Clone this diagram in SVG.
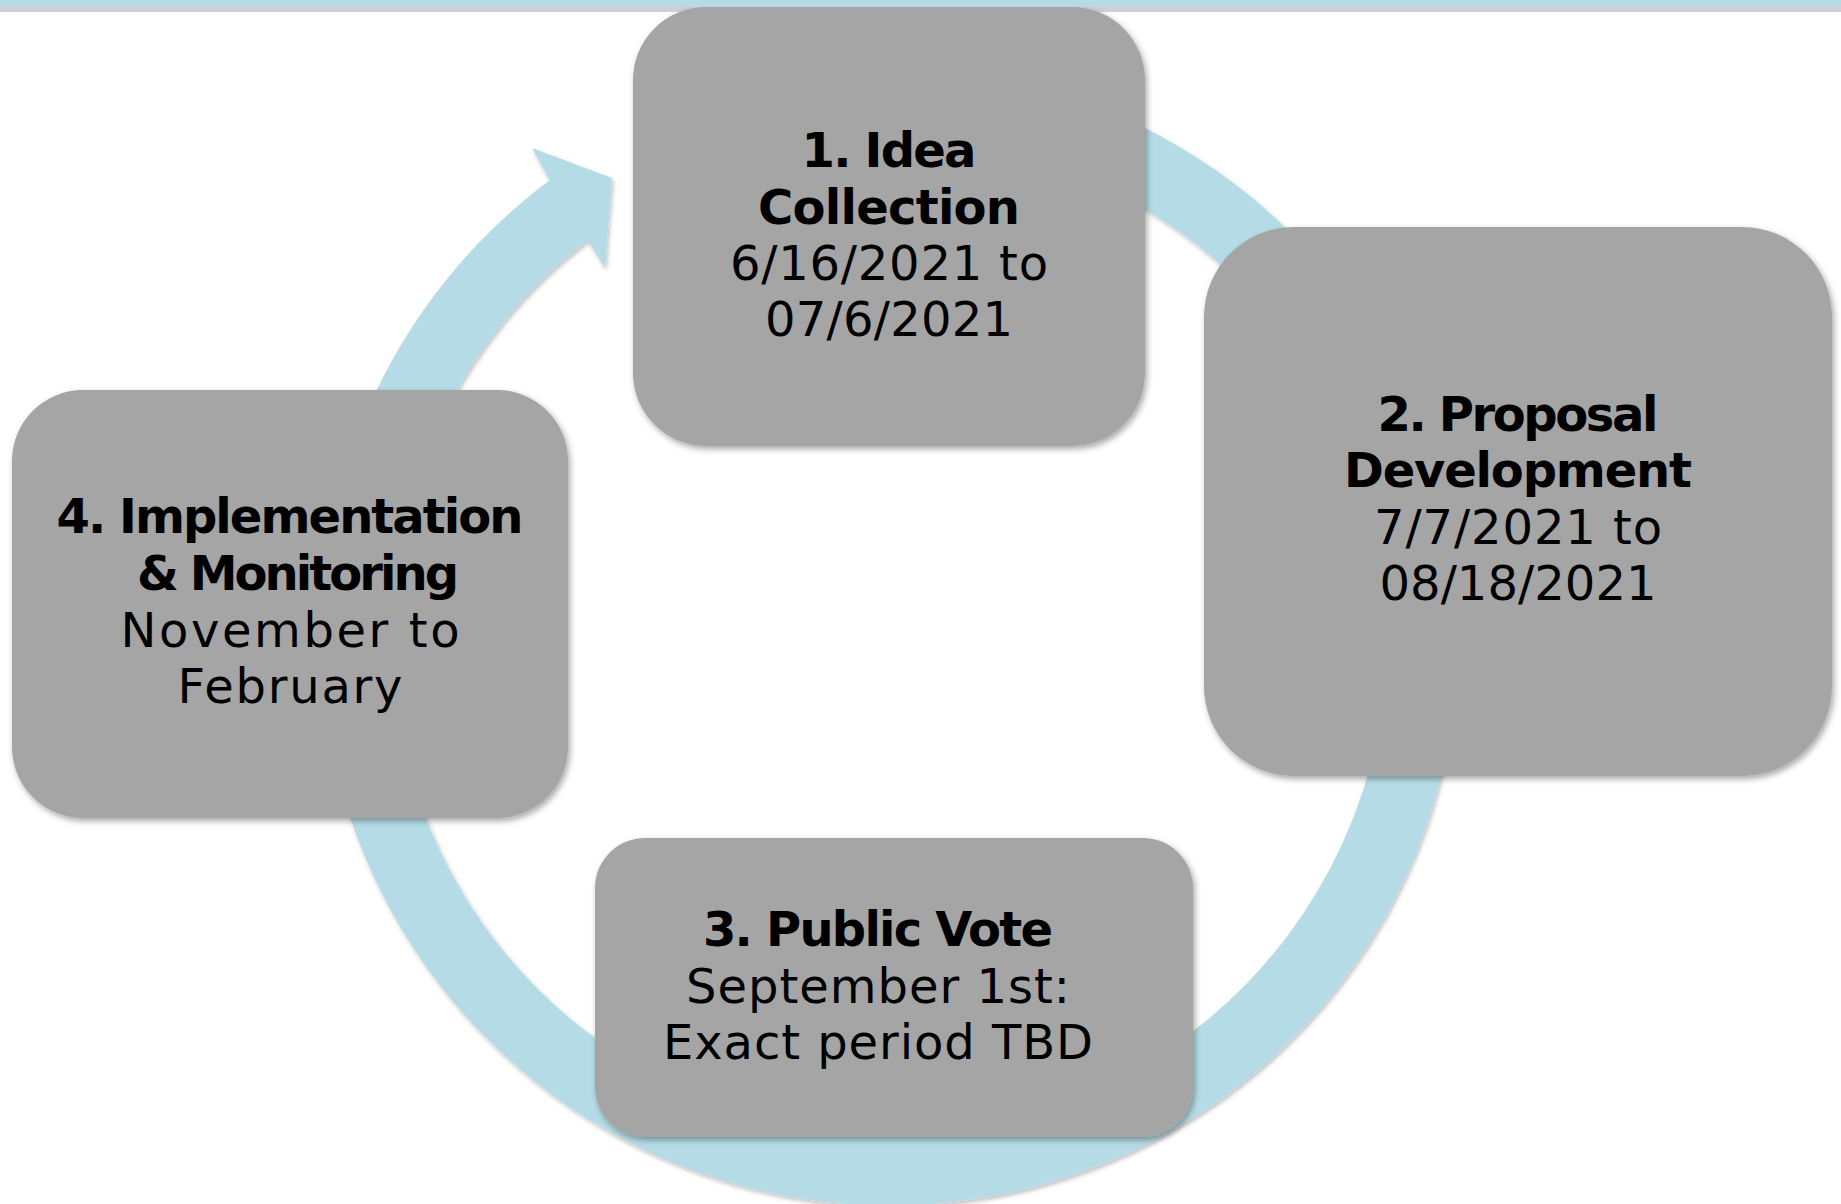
<svg xmlns="http://www.w3.org/2000/svg" width="1841" height="1204" viewBox="0 0 1841 1204">
  <style>
    .box { fill: #a5a5a5; filter: url(#shadow); }
    .ring { fill: #b5dce6; filter: url(#shadowRing); }
    .t { font-family: "DejaVu Sans", "Liberation Sans", sans-serif; font-size: 48px; fill: #000000; text-anchor: middle; }
    .b { font-weight: bold; }
  </style>
  <defs>
    <filter id="shadow" x="-10%" y="-10%" width="120%" height="120%">
      <feDropShadow dx="2" dy="3" stdDeviation="3" flood-color="#000000" flood-opacity="0.35"/>
    </filter>
    <filter id="shadowRing" x="-10%" y="-10%" width="120%" height="120%">
      <feDropShadow dx="1.5" dy="2.5" stdDeviation="2" flood-color="#000000" flood-opacity="0.25"/>
    </filter>
  </defs>
  <rect x="0" y="0" width="1841" height="1204" fill="#ffffff"/>
  <rect id="band-line" x="0" y="7" width="1841" height="5" fill="#d0d0d0"/>
  <g id="connectors">
    <path class="ring" d="M988.4,76.15 A569,569 0 1,1 549.6,180.3 L532,148 L612,178 L605,268 L587.8,240.3 A498,498 0 1,0 976.1,146.1 Z"/>
  </g>
  <g id="node1">
    <rect class="box" x="633" y="7" width="512" height="439" rx="73" ry="73"/>
    <text class="t b" x="889" y="167" textLength="175">1. Idea</text>
    <text class="t b" x="889" y="224" textLength="262">Collection</text>
    <text class="t" x="889" y="280" textLength="318">6/16/2021 to</text>
    <text class="t" x="889" y="336" textLength="248">07/6/2021</text>
  </g>
  <g id="node2">
    <rect class="box" x="1204" y="227" width="628" height="549" rx="90" ry="90"/>
    <text class="t b" x="1518" y="431" textLength="281">2. Proposal</text>
    <text class="t b" x="1518" y="487" textLength="348">Development</text>
    <text class="t" x="1518" y="544" textLength="288">7/7/2021 to</text>
    <text class="t" x="1518" y="600" textLength="277">08/18/2021</text>
  </g>
  <g id="node3">
    <rect class="box" x="595" y="838" width="598" height="299" rx="50" ry="50"/>
    <text class="t b" x="878" y="946" textLength="350">3. Public Vote</text>
    <text class="t" x="878" y="1003" textLength="384">September 1st:</text>
    <text class="t" x="878" y="1059" textLength="430">Exact period TBD</text>
  </g>
  <g id="node4">
    <rect class="box" x="12" y="390" width="556" height="428" rx="71" ry="71"/>
    <text class="t b" x="290" y="533" textLength="467">4. Implementation</text>
    <text class="t b" x="298" y="590" textLength="322">&amp; Monitoring</text>
    <text class="t" x="290" y="647" textLength="339">November to</text>
    <text class="t" x="290" y="703" textLength="225">February</text>
  </g>
  <rect id="band" x="0" y="0" width="1841" height="7" fill="#b5dce6"/>
</svg>
